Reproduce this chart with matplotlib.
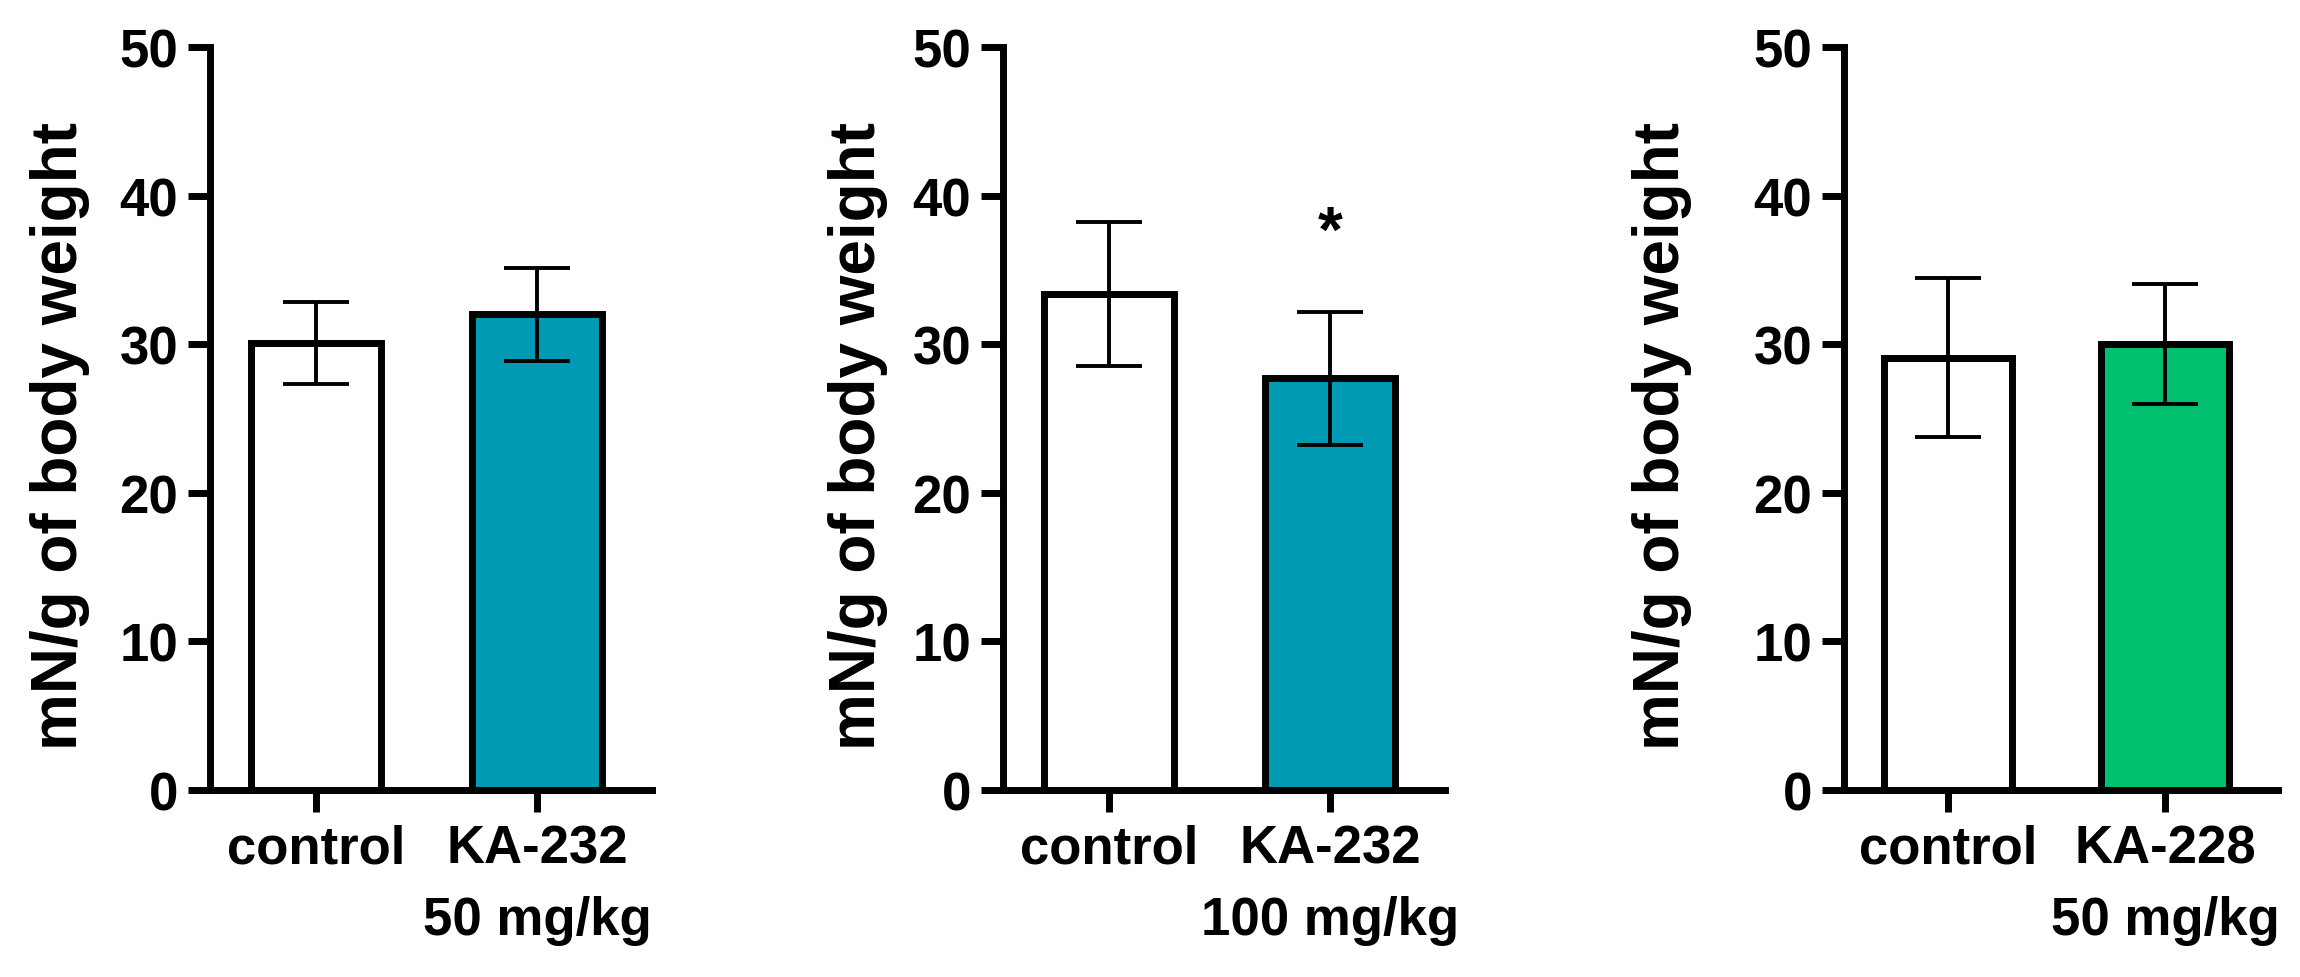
import matplotlib
matplotlib.use("Agg")
import matplotlib.pyplot as plt

# ---------------- data ----------------
labels_1 = ["control", "KA-232\n50 mg/kg"]
means_1 = [30.1, 32.0]
sem_1 = [2.75, 3.15]

labels_2 = ["control", "KA-232\n100 mg/kg"]
means_2 = [33.4, 27.7]
sem_2 = [4.85, 4.5]

labels_3 = ["control", "KA-228\n50 mg/kg"]
means_3 = [29.1, 30.0]
sem_3 = [5.35, 4.05]

colors_1 = ["#FFFFFF", "#009AB5"]
colors_2 = ["#FFFFFF", "#009AB5"]
colors_3 = ["#FFFFFF", "#00BF6F"]

star_panel = 1      # second panel
star_bar = 1        # KA-232 100 mg/kg
star_value = 37.4

ylabel = "mN/g of body weight"
yticks = [0, 10, 20, 30, 40, 50]

# ---------------- style ----------------
plt.rcParams["font.family"] = ["Liberation Sans", "DejaVu Sans"]
plt.rcParams["font.weight"] = "bold"

W, H = 2300, 978
fig = plt.figure(figsize=(W / 100, H / 100), dpi=100)

# axes placement in pixels (left, right)
boxes = [(210, 652), (1003, 1445), (1844, 2278)]
y_top, y_bot = 48, 791
label_x = [90, 888, 1692]

panels = [(labels_1, means_1, sem_1, colors_1),
          (labels_2, means_2, sem_2, colors_2),
          (labels_3, means_3, sem_3, colors_3)]

for i, ((labs, means, sems, cols), (l, r)) in enumerate(zip(panels, boxes)):
    ax = fig.add_axes([l / W, 1 - y_bot / H, (r - l) / W, (y_bot - y_top) / H])
    x = list(range(len(labs)))
    ax.bar(x, means, width=0.59, color=cols, edgecolor="black",
           linewidth=5, zorder=2)
    ax.errorbar(x, means, yerr=sems, fmt="none", ecolor="black",
                elinewidth=2.8, capsize=24, capthick=2.8, zorder=3)
    ax.set_xlim(-0.48, 1.52)
    ax.set_ylim(0, 50)
    ax.set_yticks(yticks)
    ax.set_xticks(x)
    ax.set_xticklabels(labs, fontsize=38, fontweight="bold",
                       linespacing=1.55, ha="center")
    for t in ax.get_yticklabels():
        t.set_fontsize(38)
        t.set_fontweight("bold")
    for s in ["top", "right"]:
        ax.spines[s].set_visible(False)
    for s in ["left", "bottom"]:
        ax.spines[s].set_linewidth(5)
    ax.tick_params(axis="both", width=5, length=16, direction="out")
    ax.tick_params(axis="y", pad=7)
    ax.tick_params(axis="x", pad=8)
    ax.set_ylabel(ylabel, fontsize=46, fontweight="bold")
    ax.yaxis.set_label_coords((label_x[i] - l) / (r - l), 0.478)
    if i == star_panel:
        ax.text(star_bar, star_value, "*", ha="center", va="center",
                fontsize=46, fontweight="bold", zorder=4)

fig.savefig("out.png", dpi=100)
